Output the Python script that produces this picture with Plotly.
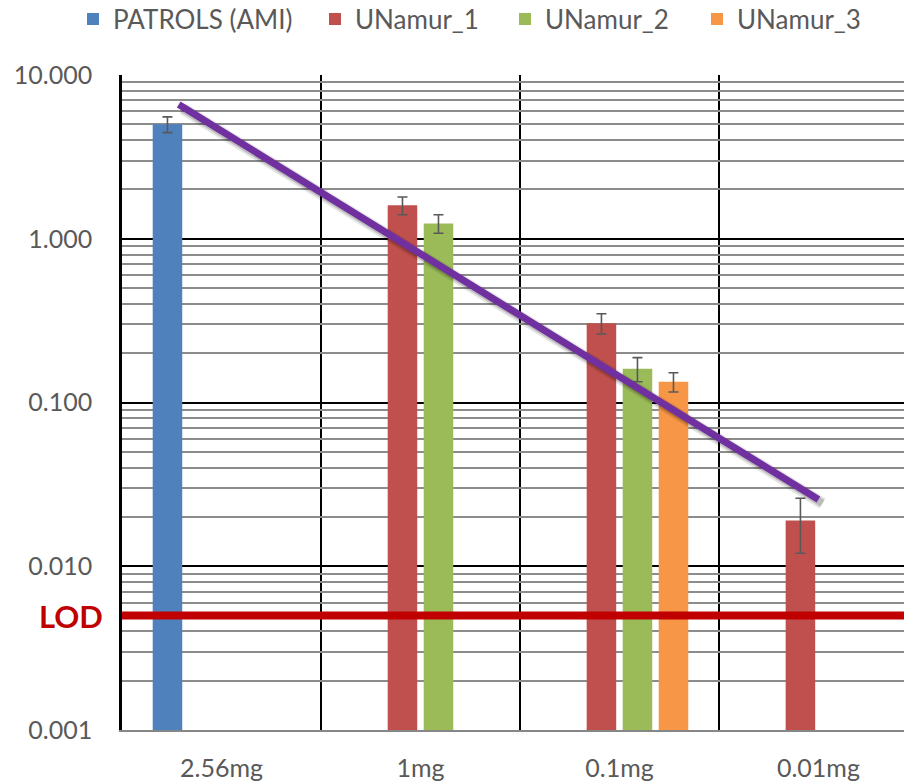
import numpy as np
import plotly.graph_objects as go

# Sample masses on the category axis
categories = ["2.56mg", "1mg", "0.1mg", "0.01mg"]

# Measured signal per laboratory (None = not measured)
patrols = [5.0, None, None, None]
patrols_err = [0.55, 0, 0, 0]
unamur_1 = [None, 1.60, 0.305, 0.019]
unamur_1_err = [0, 0.20, 0.043, 0.007]
unamur_2 = [None, 1.24, 0.161, None]
unamur_2_err = [0, 0.16, 0.027, 0]
unamur_3 = [None, None, 0.134, None]
unamur_3_err = [0, 0, 0.018, 0]

# Exponential trend (straight on a log scale), endpoints in category units
trend_x = [-0.215, 3.0]
trend_y = [6.6, 0.0256]

# Limit of detection
lod = 0.005

# Y axis labels
y_tickvals = [0.001, 0.01, 0.1, 1, 10]
y_ticktext = ["0.001", "0.010", "0.100", "1.000", "10.000"]

FONT = "Lato"
GREY = "#595959"

x = list(range(len(categories)))

series = [
    ("PATROLS (AMI)", patrols, patrols_err, "#4F81BD", "legend"),
    ("UNamur_1", unamur_1, unamur_1_err, "#C0504D", "legend2"),
    ("UNamur_2", unamur_2, unamur_2_err, "#9BBB59", "legend3"),
    ("UNamur_3", unamur_3, unamur_3_err, "#F79646", "legend4"),
]

fig = go.Figure()
for name, vals, errs, color, leg in series:
    fig.add_trace(go.Bar(
        x=x, y=vals, name=name, marker=dict(color=color, line=dict(width=0)),
        error_y=dict(type="data", array=errs, color=GREY, thickness=1.6, width=5),
        legend=leg,
    ))

# soft drop shadow under the trend line (offset a few pixels down-right)
px_per_cat = 199.0
px_per_decade = 164.0
for off, alpha, w in [(4, 0.10, 12), (4, 0.18, 8)]:
    shadow_x = [v + off / px_per_cat for v in trend_x]
    shadow_y = [v * 10 ** (-off / px_per_decade) for v in trend_y]
    fig.add_trace(go.Scatter(x=shadow_x, y=shadow_y, mode="lines",
                             line=dict(color=f"rgba(0,0,0,{alpha})", width=w),
                             showlegend=False, hoverinfo="skip"))
fig.add_trace(go.Scatter(x=trend_x, y=trend_y, mode="lines",
                         line=dict(color="#7030A0", width=7),
                         showlegend=False))

# LOD line and label
fig.add_shape(type="line", xref="paper", x0=0, x1=1, yref="y", y0=lod, y1=lod,
              line=dict(color="#C00000", width=8), layer="above")
fig.add_annotation(xref="paper", x=-0.022, xanchor="right", yref="y",
                   y=np.log10(lod), text="<b>LOD</b>", showarrow=False,
                   font=dict(family=FONT, size=31, color="#C00000"))

minor_y = [k * 10.0 ** e for e in range(-3, 1) for k in range(2, 10)]
cat_edges = [i - 0.5 for i in x]

legend_common = dict(orientation="h", xref="container", yref="container",
                     xanchor="left", yanchor="middle", y=1 - 19 / 784,
                     font=dict(family=FONT, size=26, color=GREY),
                     bgcolor="rgba(0,0,0,0)", borderwidth=0)

fig.update_layout(
    width=904, height=784,
    margin=dict(l=122, r=0, t=75, b=54, autoexpand=False),
    paper_bgcolor="white", plot_bgcolor="white",
    barmode="group", bargap=0.276, bargroupgap=0.18,
    font=dict(family=FONT, size=25, color=GREY),
    legend=dict(legend_common, x=73 / 904),
    legend2=dict(legend_common, x=315 / 904),
    legend3=dict(legend_common, x=505 / 904),
    legend4=dict(legend_common, x=697 / 904),
    xaxis=dict(
        range=[-0.5, 3.43], tickmode="array", tickvals=x, ticktext=categories,
        showgrid=False, zeroline=False, ticks="", automargin=False,
        showline=True, linecolor="#868686", linewidth=2,
        ticklabelstandoff=15,
        minor=dict(tickmode="array", tickvals=cat_edges, showgrid=True,
                   gridcolor="black", gridwidth=1.5, ticks=""),
        tickfont=dict(family=FONT, size=25, color=GREY),
    ),
    yaxis=dict(
        type="log", range=[-3, 1], tickmode="array",
        tickvals=y_tickvals, ticktext=y_ticktext,
        showgrid=True, gridcolor="black", gridwidth=1.5,
        zeroline=False, ticks="", automargin=False,
        showline=True, linecolor="black", linewidth=2.5,
        ticklabelstandoff=22,
        minor=dict(tickmode="array", tickvals=minor_y, showgrid=True,
                   gridcolor="#8c8c8c", gridwidth=1.5, ticks=""),
        tickfont=dict(family=FONT, size=25, color=GREY),
    ),
)

fig.write_html("out.html")
